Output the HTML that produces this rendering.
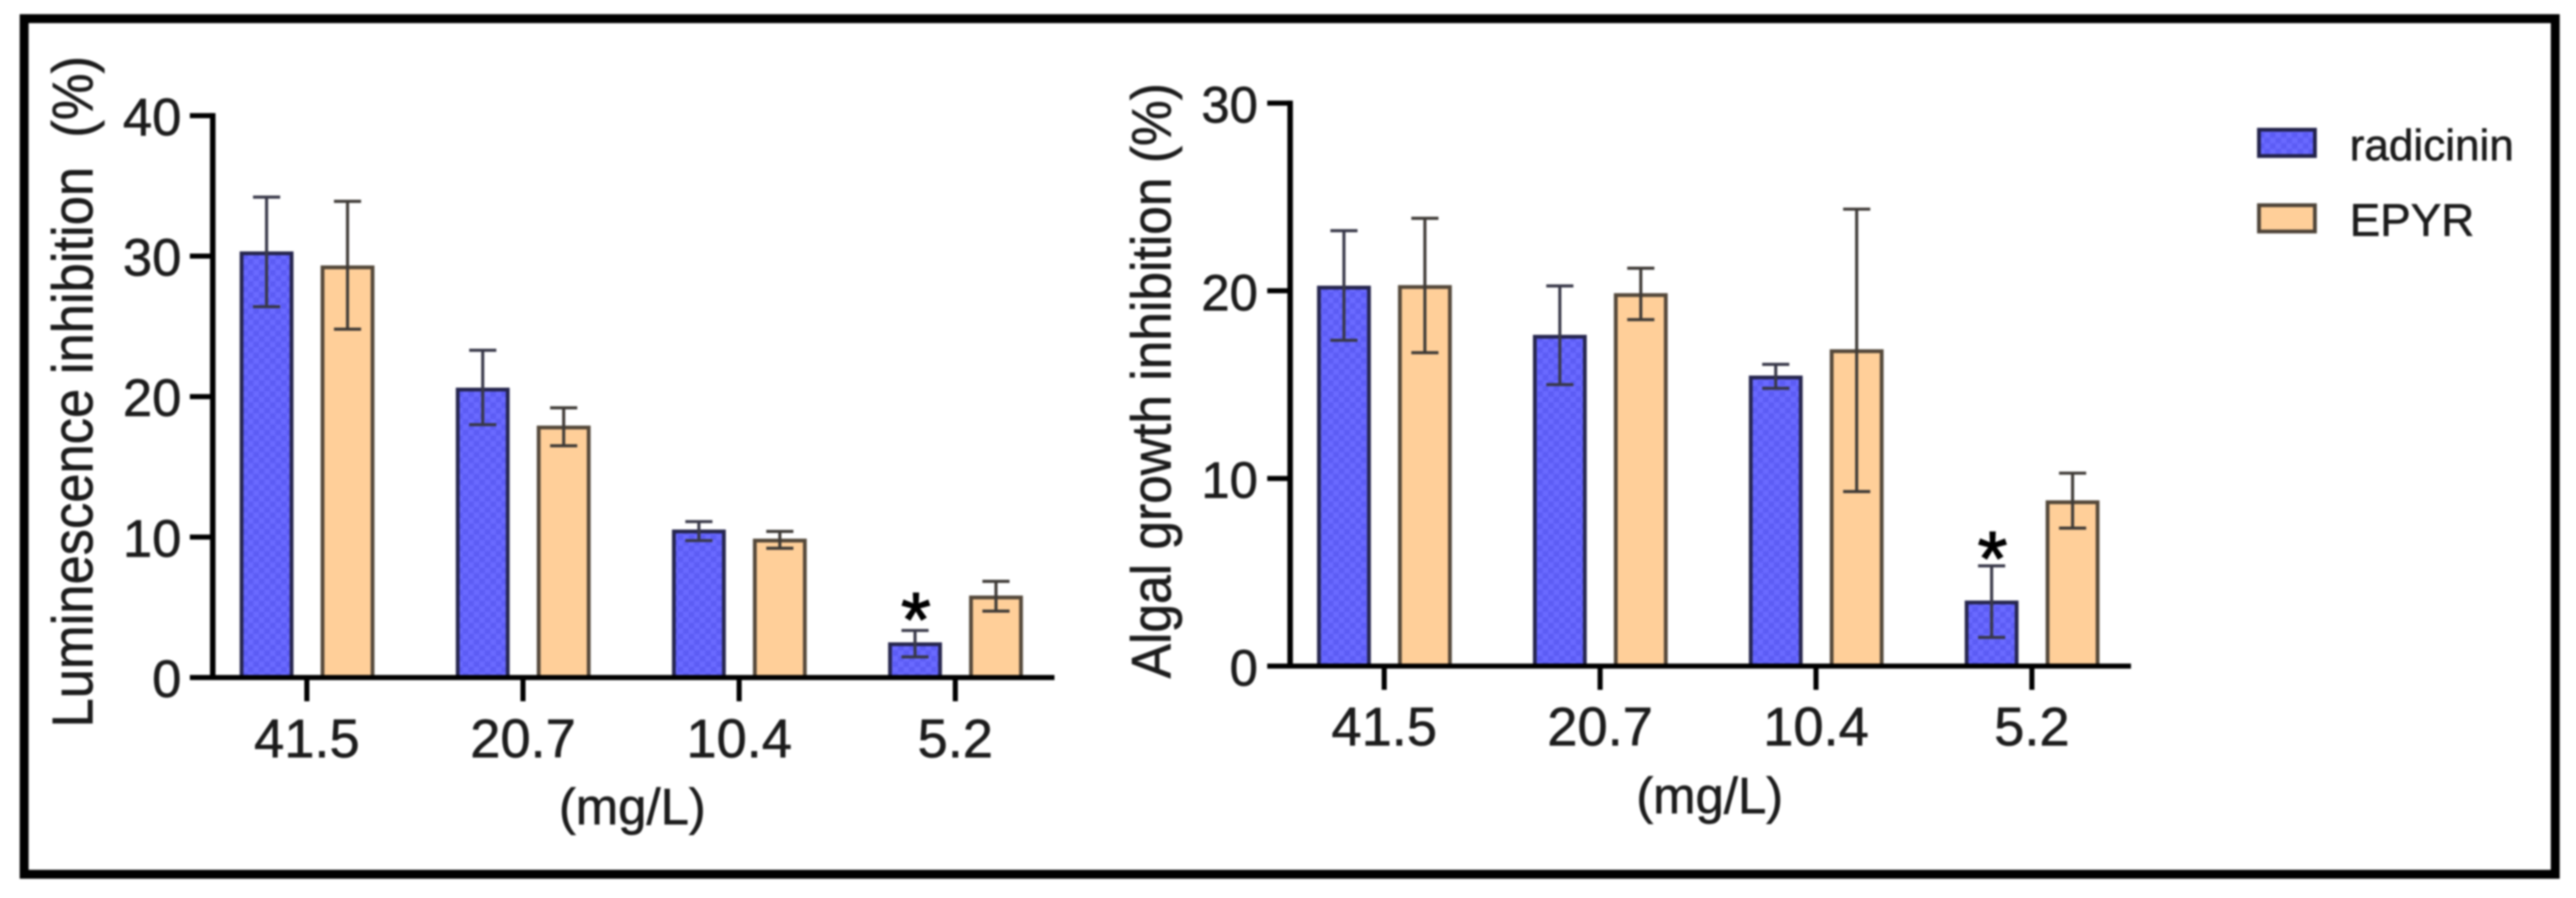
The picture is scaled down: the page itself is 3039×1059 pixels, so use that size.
<!DOCTYPE html>
<html lang="en">
<head>
<meta charset="utf-8">
<title>Luminescence and algal growth inhibition</title>
<style>
html,body{margin:0;padding:0;background:#fff;width:3039px;height:1059px;overflow:hidden}
#figure{display:block;filter:blur(1.1px)}
text{font-family:"Liberation Sans",sans-serif;fill:#1c1c1c;stroke:#1c1c1c;stroke-width:0.7px}
</style>
</head>
<body>
<svg id="figure" xmlns="http://www.w3.org/2000/svg" width="3039" height="1059" viewBox="0 0 3039 1059">
<defs>
<pattern id="check" width="13" height="13" patternUnits="userSpaceOnUse">
<rect width="13" height="13" fill="#6a6aff"/>
<rect width="6.5" height="6.5" fill="#5c5cf4"/>
<rect x="6.5" y="6.5" width="6.5" height="6.5" fill="#5c5cf4"/>
</pattern>
</defs>
<rect x="28.5" y="22" width="2986" height="1009" fill="#fff" stroke="#000" stroke-width="10.5"/>
<g id="plots"></g>
<g>
<rect x="2665" y="153" width="66" height="31" fill="url(#check)" stroke="#22224a" stroke-width="4.5"/>
<text x="2772" y="189" font-size="52">radicinin</text>
<rect x="2665" y="242" width="66" height="31" fill="#ffcf99" stroke="#4d4338" stroke-width="4.5"/>
<text x="2772" y="278" font-size="54">EPYR</text>
</g>
</svg>
<script>
// Shared categories
const doseLabels = ['41.5', '20.7', '10.4', '5.2'];

// Left chart: luminescence inhibition (%)
const lumTicks = [0, 10, 20, 30, 40];
const lumRadicinin = [30.2, 20.5, 10.4, 2.37];
const lumRadicininHigh = [34.2, 23.3, 11.1, 3.35];
const lumRadicininLow = [26.4, 18.0, 9.75, 1.47];
const lumEpyr = [29.2, 17.8, 9.75, 5.7];
const lumEpyrHigh = [33.9, 19.2, 10.4, 6.85];
const lumEpyrLow = [24.8, 16.5, 9.2, 4.73];
const lumStarred = [false, false, false, true];

// Right chart: algal growth inhibition (%)
const algalTicks = [0, 10, 20, 30];
const algalRadicinin = [20.17, 17.55, 15.38, 3.39];
const algalRadicininHigh = [23.2, 20.26, 16.08, 5.34];
const algalRadicininLow = [17.36, 15.0, 14.8, 1.53];
const algalEpyr = [20.2, 19.77, 16.78, 8.73];
const algalEpyrHigh = [23.86, 21.2, 24.35, 10.28];
const algalEpyrLow = [16.7, 18.46, 9.3, 7.35];
const algalStarred = [false, false, false, true];

const SVGNS = 'http://www.w3.org/2000/svg';
const plotsRoot = document.getElementById('plots');

function make(tag, parent, props) {
  const el = document.createElementNS(SVGNS, tag);
  Object.keys(props).forEach(function (k) { el.setAttribute(k, props[k]); });
  parent.appendChild(el);
  return el;
}

function drawChart(cfg) {
  const root = make('g', plotsRoot, {});
  
  

  const yScale = function (v) {
    return cfg.y0 + (cfg.yTop - cfg.y0) * (v / cfg.yMax);
  };
  const xScale = function (i) {
    return cfg.x0 + cfg.step * i;
  };

  const seriesList = [
    { key: 'radicinin', vals: cfg.a, hi: cfg.aHi, lo: cfg.aLo, dx: -47.5, fill: 'url(#check)', stroke: '#26264e', err: '#383848' },
    { key: 'epyr', vals: cfg.b, hi: cfg.bHi, lo: cfg.bLo, dx: 48, fill: '#ffcf99', stroke: '#54483a', err: '#3e3a36' }
  ];

  seriesList.forEach(function (s) {
    s.vals.forEach(function (v, i) {
      const cx = xScale(i) + s.dx;
      const top = yScale(v);
      const bar = make('rect', root, {
        x: cx - 29.5, y: top, width: 59, height: yScale(0) - top,
        fill: s.fill, stroke: s.stroke, 'stroke-width': 4.5
      });
      
      

      const yHi = yScale(s.hi[i]);
      const yLo = yScale(s.lo[i]);
      const err = make('path', root, {
        d: 'M' + cx + ' ' + yHi + 'V' + yLo +
           'M' + (cx - 16) + ' ' + yHi + 'H' + (cx + 16) +
           'M' + (cx - 16) + ' ' + yLo + 'H' + (cx + 16),
        stroke: s.err, 'stroke-width': 3.6, fill: 'none'
      });
      
      
    });
  });

  cfg.starred.forEach(function (on, i) {
    if (!on) return;
    const cx = xScale(i) + seriesList[0].dx;
    const star = make('text', root, {
      x: cx + 1, y: yScale(cfg.a[i]) + cfg.starDy, 'font-size': 90, 'text-anchor': 'middle'
    });
    star.textContent = '*';
    star.style.fill = '#000';
    star.style.stroke = '#000';
    star.style.strokeWidth = '1.5px';
    
    
  });

  const yAxis = make('line', root, {
    x1: cfg.axisX, x2: cfg.axisX, y1: yScale(cfg.yMax) - 3, y2: yScale(0) + 3,
    stroke: '#000', 'stroke-width': 6.5
  });
  
  

  const xAxis = make('line', root, {
    x1: cfg.axisX - 27, x2: cfg.axisEnd, y1: yScale(0), y2: yScale(0),
    stroke: '#000', 'stroke-width': 6
  });
  
  

  cfg.ticks.forEach(function (t) {
    const tick = make('line', root, {
      x1: cfg.axisX - 27, x2: cfg.axisX, y1: yScale(t), y2: yScale(t),
      stroke: '#000', 'stroke-width': 6
    });
    
    

    const label = make('text', root, {
      x: cfg.yLabelX, y: yScale(t) + 23, 'font-size': cfg.fontSize, 'text-anchor': 'end'
    });
    label.textContent = String(t);
    
    
  });

  doseLabels.forEach(function (d, i) {
    const tick = make('line', root, {
      x1: xScale(i), x2: xScale(i), y1: yScale(0), y2: yScale(0) + 28,
      stroke: '#000', 'stroke-width': 6
    });
    
    

    const label = make('text', root, {
      x: xScale(i), y: cfg.xLabelY, 'font-size': 64, 'text-anchor': 'middle'
    });
    label.textContent = d;
    
    
  });

  const xTitle = make('text', root, {
    x: cfg.xTitleX, y: cfg.xTitleY, 'font-size': 60, 'text-anchor': 'middle'
  });
  xTitle.textContent = '(mg/L)';
  
  

  const yTitle = make('text', root, {
    x: 0, y: 0, 'font-size': cfg.titleSize, 'text-anchor': 'middle',
    textLength: cfg.titleLen, lengthAdjust: 'spacingAndGlyphs',
    transform: 'translate(' + cfg.titleX + ' ' + cfg.titleY + ') rotate(-90)'
  });
  yTitle.setAttribute('xml:space', 'preserve');
  yTitle.style.whiteSpace = 'pre';
  yTitle.textContent = cfg.title;
  
  
}

drawChart({
  name: 'luminescence-chart',
  a: lumRadicinin, aHi: lumRadicininHigh, aLo: lumRadicininLow,
  b: lumEpyr, bHi: lumEpyrHigh, bLo: lumEpyrLow,
  starred: lumStarred, ticks: lumTicks,
  yMax: 40, y0: 799, yTop: 136.4,
  x0: 362, step: 255, axisX: 251, axisEnd: 1244,
  yLabelX: 214, xLabelY: 893, fontSize: 62,
  xTitleX: 746, xTitleY: 972,
  title: 'Luminescence inhibition  (%)', titleSize: 68, titleLen: 792,
  titleX: 109, titleY: 462, starDy: 2
});

drawChart({
  name: 'algal-growth-chart',
  a: algalRadicinin, aHi: algalRadicininHigh, aLo: algalRadicininLow,
  b: algalEpyr, bHi: algalEpyrHigh, bLo: algalEpyrLow,
  starred: algalStarred, ticks: algalTicks,
  yMax: 30, y0: 785.5, yTop: 121.6,
  x0: 1633, step: 254.7, axisX: 1522, axisEnd: 2514,
  yLabelX: 1484, xLabelY: 879, fontSize: 60,
  xTitleX: 2017, xTitleY: 959,
  title: 'Algal growth inhibition (%)', titleSize: 66, titleLen: 702,
  titleX: 1381, titleY: 449, starDy: -21
});
</script>
</body>
</html>
